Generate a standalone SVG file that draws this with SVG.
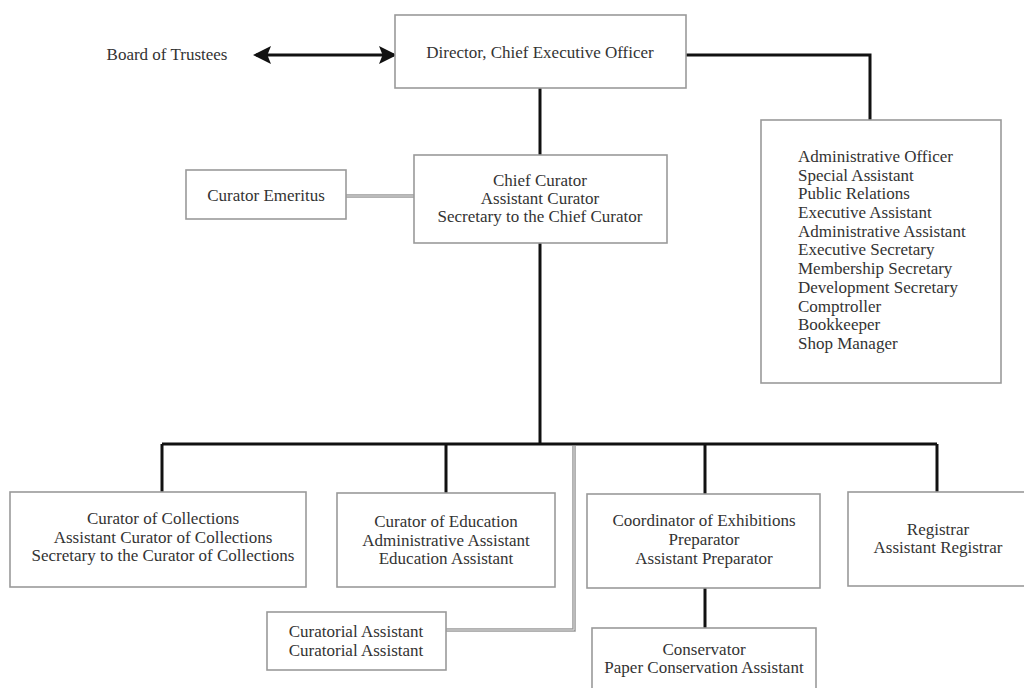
<svg xmlns="http://www.w3.org/2000/svg" width="1024" height="688" viewBox="0 0 1024 688">
<style>
.box{fill:#fff;stroke:#9a9a9a;stroke-width:1.6}
.t{font-family:"Liberation Serif","Times New Roman",serif;font-size:17px;fill:#333}
.c{text-anchor:middle}
.k{fill:none;stroke:#111;stroke-width:3}
.g{fill:none;stroke:#999;stroke-width:3.5}
.gi{fill:none;stroke:#ddd;stroke-width:1}
</style>
<defs>
<marker id="ah" markerWidth="6" markerHeight="6" refX="5" refY="3" orient="auto-start-reverse" markerUnits="strokeWidth">
<path d="M0,0 L6,3 L0,6 L1.2,3 Z" fill="#111"/>
</marker>
</defs>
<rect width="1024" height="688" fill="#fff"/>
<g id="connectors">
<line class="k" x1="256" y1="55" x2="394" y2="55" marker-start="url(#ah)" marker-end="url(#ah)"/>
<polyline class="k" points="686,55 870,55 870,120"/>
<line class="k" x1="540" y1="88" x2="540" y2="155"/>
<line class="k" x1="540" y1="243" x2="540" y2="444"/>
<line class="k" x1="162" y1="444" x2="937" y2="444"/>
<line class="k" x1="162" y1="444" x2="162" y2="492"/>
<line class="k" x1="446" y1="444" x2="446" y2="493"/>
<line class="k" x1="705" y1="444" x2="705" y2="494"/>
<line class="k" x1="937" y1="444" x2="937" y2="492"/>
<line class="k" x1="705" y1="588" x2="705" y2="628"/>
<line class="g" x1="346" y1="196" x2="414" y2="196"/>
<line class="gi" x1="346" y1="196" x2="414" y2="196"/>
<polyline class="g" points="574,446 574,630 446,630"/>
<polyline class="gi" points="574,446 574,630 446,630"/>
</g>
<g id="board">
<text class="t c" x="167" y="60">Board of Trustees</text>
</g>
<g id="director">
<rect class="box" x="395" y="15" width="291" height="73"/>
<text class="t c" x="540" y="58">Director, Chief Executive Officer</text>
</g>
<g id="admin">
<rect class="box" x="761" y="120" width="240" height="263"/>
<text class="t" x="798" y="162">Administrative Officer</text>
<text class="t" x="798" y="181">Special Assistant</text>
<text class="t" x="798" y="199">Public Relations</text>
<text class="t" x="798" y="218">Executive Assistant</text>
<text class="t" x="798" y="237">Administrative Assistant</text>
<text class="t" x="798" y="255">Executive Secretary</text>
<text class="t" x="798" y="274">Membership Secretary</text>
<text class="t" x="798" y="293">Development Secretary</text>
<text class="t" x="798" y="312">Comptroller</text>
<text class="t" x="798" y="330">Bookkeeper</text>
<text class="t" x="798" y="349">Shop Manager</text>
</g>
<g id="emeritus">
<rect class="box" x="186" y="170" width="160" height="49"/>
<text class="t c" x="266" y="201">Curator Emeritus</text>
</g>
<g id="chief">
<rect class="box" x="414" y="155" width="253" height="88"/>
<text class="t c" x="540" y="186">Chief Curator</text>
<text class="t c" x="540" y="204">Assistant Curator</text>
<text class="t c" x="540" y="222">Secretary to the Chief Curator</text>
</g>
<g id="collections">
<rect class="box" x="10" y="492" width="296" height="95"/>
<text class="t c" x="163" y="524">Curator of Collections</text>
<text class="t c" x="163" y="543">Assistant Curator of Collections</text>
<text class="t c" x="163" y="561">Secretary to the Curator of Collections</text>
</g>
<g id="education">
<rect class="box" x="337" y="493" width="218" height="94"/>
<text class="t c" x="446" y="527">Curator of Education</text>
<text class="t c" x="446" y="546">Administrative Assistant</text>
<text class="t c" x="446" y="564">Education Assistant</text>
</g>
<g id="exhibitions">
<rect class="box" x="587" y="494" width="233" height="94"/>
<text class="t c" x="704" y="526">Coordinator of Exhibitions</text>
<text class="t c" x="704" y="545">Preparator</text>
<text class="t c" x="704" y="564">Assistant Preparator</text>
</g>
<g id="registrar">
<rect class="box" x="848" y="492" width="182" height="94"/>
<text class="t c" x="938" y="535">Registrar</text>
<text class="t c" x="938" y="553">Assistant Registrar</text>
</g>
<g id="curatorial">
<rect class="box" x="267" y="612" width="179" height="58"/>
<text class="t c" x="356" y="637">Curatorial Assistant</text>
<text class="t c" x="356" y="656">Curatorial Assistant</text>
</g>
<g id="conservator">
<rect class="box" x="592" y="628" width="224" height="66"/>
<text class="t c" x="704" y="655">Conservator</text>
<text class="t c" x="704" y="673">Paper Conservation Assistant</text>
</g>
</svg>
